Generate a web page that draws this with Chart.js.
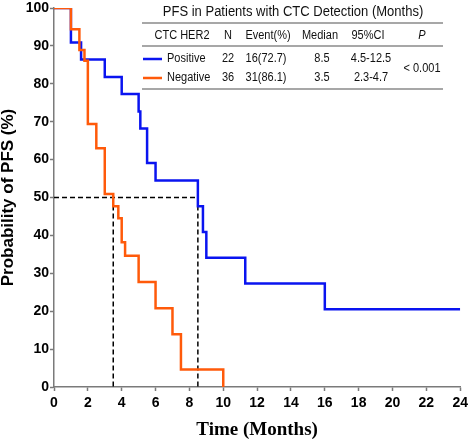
<!DOCTYPE html>
<html>
<head>
<meta charset="utf-8">
<script src="https://cdn.jsdelivr.net/npm/chart.js@4/dist/chart.umd.min.js"></script>
<style>
  body { margin: 0; background: #fff; }
  canvas { display: block; }
</style>
</head>
<body>
<canvas id="km" width="472" height="441"></canvas>
<script>
// Kaplan-Meier curves (time in months, PFS in %)
const posTimes = [0, 1.0, 1.6, 3.0, 4.0, 5.0, 5.1, 5.5, 6.0, 8.5, 8.8, 9.0, 11.3, 16.0, 24];
const posSurv  = [100, 90.9, 86.4, 81.8, 77.3, 72.7, 68.2, 59.1, 54.5, 47.7, 40.9, 34.1, 27.3, 20.5, 20.5];
const negTimes = [0, 1.0, 1.5, 1.8, 2.0, 2.5, 3.0, 3.5, 3.8, 4.0, 4.2, 5.0, 6.0, 7.0, 7.5, 10.0];
const negSurv  = [100, 94.4, 88.9, 86.1, 69.4, 63.0, 50.9, 47.7, 44.5, 38.2, 34.6, 27.7, 20.8, 13.9, 4.6, 0];

// medians (dashed guides)
const medianLevel = 50;
const medianTimes = [3.5, 8.5];

// table text
const tableTitle = 'PFS in Patients with CTC Detection (Months)';
const tableHeader = ['CTC HER2', 'N', 'Event(%)', 'Median', '95%CI', 'P'];
const groups = ['Positive', 'Negative'];
const groupN = ['22', '36'];
const groupEvents = ['16(72.7)', '31(86.1)'];
const groupMedian = ['8.5', '3.5'];
const groupCI = ['4.5-12.5', '2.3-4.7'];
const pValue = '< 0.001';

const blue = '#0a14f0';
const orange = '#ff5a0a';

const toPts = (xs, ys) => xs.map((x, i) => ({ x: x, y: ys[i] }));

// text a bit narrower than normal, like the source figure
function squeezed(ctx, text, x, y, sx) {
  ctx.save();
  ctx.translate(x, y);
  ctx.scale(sx, 1);
  ctx.fillText(text, 0, 0);
  ctx.restore();
}

// table drawn on top of the plot
const tablePlugin = {
  id: 'kmTable',
  afterDraw(chart) {
    const ctx = chart.ctx;
    const sx = 0.88;
    ctx.save();
    ctx.fillStyle = '#111';
    ctx.textBaseline = 'middle';
    ctx.textAlign = 'center';
    ctx.font = '14px "Liberation Sans", Arial, sans-serif';
    squeezed(ctx, tableTitle, 293, 12, 0.93);

    // rules
    ctx.strokeStyle = '#8a8a8a';
    ctx.lineWidth = 1.5;
    [23, 46, 89].forEach(y => {
      ctx.beginPath();
      ctx.moveTo(142, y);
      ctx.lineTo(443, y);
      ctx.stroke();
    });

    const cols = [182, 228, 268, 320, 368, 422];
    tableHeader.forEach((h, i) => {
      ctx.font = (h === 'P' ? 'italic ' : '') + '12.5px "Liberation Sans", Arial, sans-serif';
      squeezed(ctx, h, cols[i], 36, sx);
    });

    ctx.font = '12.5px "Liberation Sans", Arial, sans-serif';
    const rowsY = [59, 78];
    const colors = [blue, orange];
    groups.forEach((g, i) => {
      const y = rowsY[i];
      ctx.strokeStyle = colors[i];
      ctx.lineWidth = 2.5;
      ctx.beginPath();
      ctx.moveTo(143, y);
      ctx.lineTo(162, y);
      ctx.stroke();
      ctx.textAlign = 'left';
      squeezed(ctx, g, 167, y, sx);
      ctx.textAlign = 'center';
      squeezed(ctx, groupN[i], cols[1], y, sx);
      squeezed(ctx, groupEvents[i], 266, y, sx);
      squeezed(ctx, groupMedian[i], 322, y, sx);
      squeezed(ctx, groupCI[i], 371, y, sx);
    });
    squeezed(ctx, pValue, 422, 68.5, sx);
    ctx.restore();
  }
};

const dashStyle = {
  borderColor: '#000',
  borderWidth: 1.5,
  borderDash: [5, 3],
  pointRadius: 0,
  fill: false,
  order: 2
};

new Chart(document.getElementById('km'), {
  type: 'line',
  data: {
    datasets: [
      {
        label: groups[1],
        data: toPts(negTimes, negSurv),
        stepped: true,
        borderColor: orange,
        borderWidth: 2.5,
        pointRadius: 0,
        fill: false,
        order: 0
      },
      {
        label: groups[0],
        data: toPts(posTimes, posSurv),
        stepped: true,
        borderColor: blue,
        borderWidth: 2.5,
        pointRadius: 0,
        fill: false,
        order: 1
      },
      Object.assign({ data: [{ x: 0, y: medianLevel }, { x: medianTimes[1], y: medianLevel }] }, dashStyle),
      Object.assign({ data: [{ x: medianTimes[0], y: medianLevel }, { x: medianTimes[0], y: 0 }] }, dashStyle),
      Object.assign({ data: [{ x: medianTimes[1], y: medianLevel }, { x: medianTimes[1], y: 0 }] }, dashStyle)
    ]
  },
  options: {
    responsive: false,
    animation: false,
    devicePixelRatio: 1,
    layout: { padding: { top: 5, right: 8, left: 0, bottom: 0 } },
    plugins: {
      legend: { display: false },
      tooltip: { enabled: false }
    },
    scales: {
      x: {
        type: 'linear',
        min: 0,
        max: 24,
        border: { color: '#7a7a7a', width: 1.5 },
        grid: { drawOnChartArea: false, tickLength: 4, tickColor: '#7a7a7a', tickWidth: 1.5 },
        ticks: {
          stepSize: 2,
          padding: 4,
          color: '#000',
          maxRotation: 0,
          font: { family: '"Liberation Sans", Arial, sans-serif', size: 14, weight: 'bold' }
        },
        title: {
          display: true,
          text: 'Time (Months)',
          color: '#000',
          padding: { top: 4, bottom: 0 },
          font: { family: '"Liberation Serif", "Times New Roman", serif', size: 19, weight: 'bold' }
        },
        afterFit(scale) { scale.height = 54; }
      },
      y: {
        min: 0,
        max: 100,
        border: { color: '#7a7a7a', width: 1.5 },
        grid: { drawOnChartArea: false, tickLength: 4, tickColor: '#7a7a7a', tickWidth: 1.5 },
        ticks: {
          stepSize: 10,
          padding: 1,
          color: '#000',
          font: { family: '"Liberation Sans", Arial, sans-serif', size: 14, weight: 'bold', lineHeight: 1 }
        },
        title: {
          display: true,
          text: 'Probability of PFS (%)',
          color: '#000',
          padding: { top: 0, bottom: 0 },
          font: { family: '"Liberation Sans", Arial, sans-serif', size: 17, weight: 'bold', lineHeight: 1 }
        },
        afterFit(scale) { scale.width = 54; }
      }
    }
  },
  plugins: [tablePlugin]
});
</script>
</body>
</html>
